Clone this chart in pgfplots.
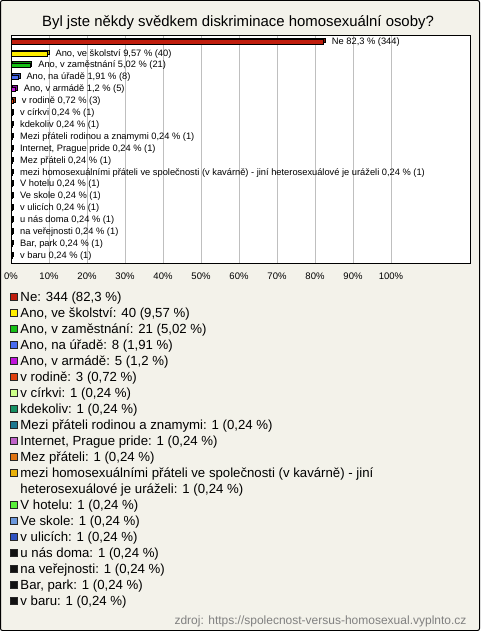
\documentclass[border=0pt]{standalone}
\usepackage{pgfplots}
\pgfplotsset{compat=1.18}
\usepackage{fontspec}
\setmainfont{Liberation Sans}

\definecolor{bg}{HTML}{F3F2EA}
\definecolor{c1}{HTML}{C01E0E}
\definecolor{c2}{HTML}{FFEE00}
\definecolor{c3}{HTML}{16C016}
\definecolor{c4}{HTML}{4A6CF0}
\definecolor{c5}{HTML}{C015DA}
\definecolor{c6}{HTML}{E0400E}
\definecolor{c7}{HTML}{CCFF88}
\definecolor{c8}{HTML}{159062}
\definecolor{c9}{HTML}{1E7890}
\definecolor{c10}{HTML}{C062C8}
\definecolor{c11}{HTML}{E07412}
\definecolor{c12}{HTML}{E8B00A}
\definecolor{c13}{HTML}{58F03A}
\definecolor{c14}{HTML}{6C98DC}
\definecolor{c15}{HTML}{2F52C0}
\definecolor{c16}{HTML}{111111}

\newcommand{\mybar}[5]{%
 \addplot[xbar, bar width=4.5pt, bar shift=0pt, fill=#1!70!black, draw=black, line width=0.5pt, xshift=1.5pt, yshift=1.5pt, forget plot] coordinates {(#2,#3)};
 \addplot[xbar, bar width=4.5pt, bar shift=0pt, fill=#1, draw=black, line width=0.5pt,
   nodes near coords={#4},
   nodes near coords style={anchor=west, inner sep=0pt, xshift=8pt, font=\fontsize{9.3}{11}\selectfont, text=black},
   legend image code/.code={\draw[fill=#1, draw=black!85, line width=0.5pt] (0pt,0pt) rectangle (7pt,7pt);}] coordinates {(#2,#3)};
 \addlegendentry{#5}%
}

\begin{document}
\begin{tikzpicture}
\path[use as bounding box] (0,0) rectangle (480pt,-631pt);
\draw[fill=bg, draw=black, line width=1pt, rounded corners=2pt] (0.5pt,-0.5pt) rectangle (479.5pt,-630.5pt);
\node[anchor=base, font=\fontsize{14.9}{17}\selectfont] at (238pt,-26.7pt) {Byl jste někdy svědkem diskriminace homosexuální osoby?};
\node[anchor=base east, text=black!50, font=\fontsize{12}{14}\selectfont] at (470pt,-624pt) {zdroj: https://spolecnost-versus-homosexual.vyplnto.cz};
\begin{axis}[
 at={(11pt,-35pt)}, anchor=north west,
 scale only axis, width=459pt, height=228pt,
 xmin=0, xmax=120.8, ymin=-0.56, ymax=18.6, y dir=reverse,
 xtick={0,10,20,30,40,50,60,70,80,90,100},
 xticklabels={0\%,10\%,20\%,30\%,40\%,50\%,60\%,70\%,80\%,90\%,100\%},
 ytick=\empty, major tick length=0pt,
 xmajorgrids, major grid style={draw=black!25, line width=0.6pt},
 axis line style={black, line width=0.8pt},
 axis background/.style={fill=white},
 tick label style={font=\fontsize{9.5}{11}\selectfont},
 xticklabel style={anchor=base, yshift=-16pt, inner sep=0pt},
 /pgf/number format/assume math mode=true,
 clip=false,
 legend cell align=left,
 legend style={at={(-0.0022,-0.127)}, anchor=north west, draw=none, fill=none, inner sep=0pt, outer sep=0pt,
   row sep=0pt, column sep=3pt, font=\fontsize{13.2}{15}\selectfont,
   nodes={inner sep=0pt, text height=10pt, text depth=6.0pt}},
]
\mybar{c1}{82.3}{0}{Ne 82,3 \% (344)}{Ne: 344 (82,3 \%)}
\mybar{c2}{9.57}{1}{Ano, ve školství 9,57 \% (40)}{Ano, ve školství: 40 (9,57 \%)}
\mybar{c3}{5.02}{2}{Ano, v zaměstnání 5,02 \% (21)}{Ano, v zaměstnání: 21 (5,02 \%)}
\mybar{c4}{1.91}{3}{Ano, na úřadě 1,91 \% (8)}{Ano, na úřadě: 8 (1,91 \%)}
\mybar{c5}{1.2}{4}{Ano, v armádě 1,2 \% (5)}{Ano, v armádě: 5 (1,2 \%)}
\mybar{c6}{0.72}{5}{v rodině 0,72 \% (3)}{v rodině: 3 (0,72 \%)}
\mybar{c7}{0.24}{6}{v církvi 0,24 \% (1)}{v církvi: 1 (0,24 \%)}
\mybar{c8}{0.24}{7}{kdekoliv 0,24 \% (1)}{kdekoliv: 1 (0,24 \%)}
\mybar{c9}{0.24}{8}{Mezi přáteli rodinou a znamymi 0,24 \% (1)}{Mezi přáteli rodinou a znamymi: 1 (0,24 \%)}
\mybar{c10}{0.24}{9}{Internet, Prague pride 0,24 \% (1)}{Internet, Prague pride: 1 (0,24 \%)}
\mybar{c11}{0.24}{10}{Mez přáteli 0,24 \% (1)}{Mez přáteli: 1 (0,24 \%)}
\mybar{c12}{0.24}{11}{mezi homosexuálními přáteli ve společnosti (v kavárně) - jiní heterosexuálové je uráželi 0,24 \% (1)}{mezi homosexuálními přáteli ve společnosti (v kavárně) - jiní}
\addlegendimage{empty legend}
\addlegendentry{heterosexuálové je uráželi: 1 (0,24 \%)}
\mybar{c13}{0.24}{12}{V hotelu 0,24 \% (1)}{V hotelu: 1 (0,24 \%)}
\mybar{c14}{0.24}{13}{Ve skole 0,24 \% (1)}{Ve skole: 1 (0,24 \%)}
\mybar{c15}{0.24}{14}{v ulicích 0,24 \% (1)}{v ulicích: 1 (0,24 \%)}
\mybar{c16}{0.24}{15}{u nás doma 0,24 \% (1)}{u nás doma: 1 (0,24 \%)}
\mybar{c16}{0.24}{16}{na veřejnosti 0,24 \% (1)}{na veřejnosti: 1 (0,24 \%)}
\mybar{c16}{0.24}{17}{Bar, park 0,24 \% (1)}{Bar, park: 1 (0,24 \%)}
\mybar{c16}{0.24}{18}{v baru 0,24 \% (1)}{v baru: 1 (0,24 \%)}
\end{axis}
\end{tikzpicture}
\end{document}
